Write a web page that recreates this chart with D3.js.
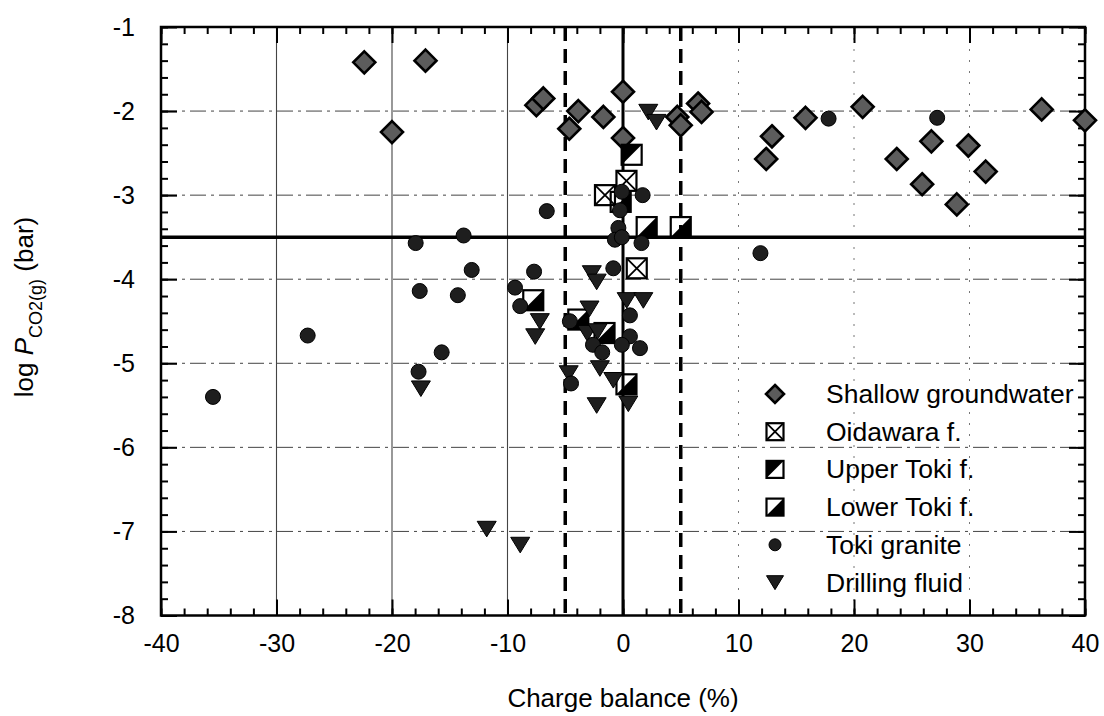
<!DOCTYPE html>
<html>
<head>
<meta charset="utf-8">
<script src="https://cdn.jsdelivr.net/npm/d3@7"></script>
<style>
  html, body { margin: 0; padding: 0; background: #fff; }
  svg { display: block; font-family: "Liberation Sans", Arial, Helvetica, sans-serif; }
</style>
</head>
<body>
<svg id="chart" width="1104" height="716"></svg>
<script>
// ---- data ----
const xTicks = [-40, -30, -20, -10, 0, 10, 20, 30, 40];
const yTicks = [-1, -2, -3, -4, -5, -6, -7, -8];
const xTitle = "Charge balance (%)";
const seriesNames = ["Shallow groundwater", "Oidawara f.", "Upper Toki f.", "Lower Toki f.", "Toki granite", "Drilling fluid"];
const refX = [0];          // solid vertical line
const refXDashed = [-5, 5]; // dashed vertical lines
const refY = [-3.5];       // solid horizontal line

const shallow = [
  [-22.4, -1.42], [-17.1, -1.40], [-20.0, -2.25], [-7.5, -1.93], [-6.9, -1.85],
  [-4.65, -2.21], [-3.87, -2.00], [-1.7, -2.07], [0.0, -1.77], [0.0, -2.32],
  [4.7, -2.07], [5.0, -2.17], [6.5, -1.91], [6.8, -2.01], [12.9, -2.30],
  [12.4, -2.57], [15.8, -2.08], [20.75, -1.95], [23.7, -2.57], [26.7, -2.36],
  [25.9, -2.87], [29.9, -2.41], [31.4, -2.72], [28.9, -3.11], [36.25, -1.98],
  [40.0, -2.11]
];
const oidawara = [[0.3, -2.83], [-1.56, -3.0], [1.19, -3.87]];
const upperToki = [[0.75, -2.52]];
const lowerToki = [
  [-0.2, -3.08], [2.05, -3.38], [5.0, -3.38], [-7.77, -4.25], [-3.87, -4.48],
  [-1.6, -4.64], [0.3, -5.25]
];
const tokiGranite = [
  [-6.6, -3.19], [-13.8, -3.48], [-17.95, -3.57], [-13.1, -3.89], [-7.7, -3.91],
  [-17.6, -4.14], [-14.3, -4.19], [-9.35, -4.10], [-8.9, -4.32], [-27.3, -4.67],
  [-15.7, -4.87], [-17.7, -5.10], [-35.5, -5.40], [-4.6, -4.50], [-4.5, -5.24],
  [17.8, -2.09], [27.2, -2.08], [11.9, -3.69],
  [-0.1, -2.96], [-0.26, -3.18], [1.7, -3.00], [-0.4, -3.39], [-0.7, -3.53],
  [-0.1, -3.50], [1.6, -3.57], [-0.84, -3.87], [0.6, -4.43], [0.6, -4.68],
  [-0.1, -4.78], [1.47, -4.82], [-2.6, -4.78], [-1.8, -4.87]
];
const drilling = [
  [2.19, -2.01], [2.9, -2.13], [-2.7, -3.93], [-2.28, -4.03], [-7.2, -4.50],
  [-7.6, -4.68], [-2.9, -4.35], [0.32, -4.25], [1.76, -4.25], [-3.1, -4.64],
  [-2.2, -4.62], [-2.0, -5.06], [-0.84, -5.20], [-4.7, -5.12], [0.46, -5.48],
  [-2.28, -5.50], [-17.5, -5.30], [-11.8, -6.97], [-8.9, -7.16]
];

// ---- layout ----
const svg = d3.select("#chart");
const x = d3.scaleLinear().domain([-40, 40]).range([161, 1085]);
const y = d3.scaleLinear().domain([-8, -1]).range([615.5, 27]);
const X0 = x.range()[0], X1 = x.range()[1], Y0 = y.range()[0], Y1 = y.range()[1];
const fontSize = 25;

// grid
const grid = svg.append("g");
grid.selectAll("line.vg").data(xTicks.filter(d => d > -40 && d < 40 && d !== 0)).join("line")
  .attr("x1", d => x(d)).attr("x2", d => x(d)).attr("y1", Y1).attr("y2", Y0)
  .attr("stroke", d => d < 0 ? "#444" : "#777")
  .attr("stroke-width", d => d < 0 ? 1.1 : 1)
  .attr("stroke-dasharray", d => d < 0 ? null : "2,9");
grid.selectAll("line.hg").data(yTicks.filter(d => d < -1 && d > -8)).join("line")
  .attr("x1", X0).attr("x2", X1).attr("y1", d => y(d)).attr("y2", d => y(d))
  .attr("stroke", "#444").attr("stroke-width", 1)
  .attr("stroke-dasharray", "16,5,3,5");

// reference lines
svg.append("g").selectAll("line").data(refXDashed).join("line")
  .attr("x1", d => x(d)).attr("x2", d => x(d)).attr("y1", Y1).attr("y2", Y0)
  .attr("stroke", "#000").attr("stroke-width", 3.5).attr("stroke-dasharray", "14,8");
svg.append("g").selectAll("line").data(refX).join("line")
  .attr("x1", d => x(d)).attr("x2", d => x(d)).attr("y1", Y1).attr("y2", Y0)
  .attr("stroke", "#000").attr("stroke-width", 3);
svg.append("g").selectAll("line").data(refY).join("line")
  .attr("x1", X0).attr("x2", X1).attr("y1", d => y(d)).attr("y2", d => y(d))
  .attr("stroke", "#000").attr("stroke-width", 3.5);

// axes with inward ticks
const xMinor = d3.range(-40, 41, 2);
const yMinor = d3.range(-8, -0.99, 0.2).map(v => Math.round(v * 10) / 10);
function styleAxis(g) {
  g.select(".domain").remove();
  g.selectAll(".tick line").attr("stroke", "#000").attr("stroke-width", 2);
  g.selectAll("text").attr("font-size", fontSize).attr("fill", "#000")
    .attr("font-family", "'Liberation Sans', Arial, Helvetica, sans-serif");
}
svg.append("g").attr("transform", `translate(0,${Y0})`)
  .call(d3.axisBottom(x).tickValues(xMinor).tickSize(-7).tickFormat("")).call(styleAxis);
svg.append("g").attr("transform", `translate(0,${Y0})`)
  .call(d3.axisBottom(x).tickValues(xTicks).tickSize(-16).tickPadding(19).tickFormat(d => String(d))).call(styleAxis);
svg.append("g").attr("transform", `translate(0,${Y1})`)
  .call(d3.axisTop(x).tickValues(xMinor).tickSize(-7).tickFormat("")).call(styleAxis);
svg.append("g").attr("transform", `translate(0,${Y1})`)
  .call(d3.axisTop(x).tickValues(xTicks).tickSize(-16).tickFormat("")).call(styleAxis);
svg.append("g").attr("transform", `translate(${X0},0)`)
  .call(d3.axisLeft(y).tickValues(yMinor).tickSize(-7).tickFormat("")).call(styleAxis);
svg.append("g").attr("transform", `translate(${X0},0)`)
  .call(d3.axisLeft(y).tickValues(yTicks).tickSize(-16).tickPadding(26).tickFormat(d => String(d))).call(styleAxis);
svg.append("g").attr("transform", `translate(${X1},0)`)
  .call(d3.axisRight(y).tickValues(yMinor).tickSize(-7).tickFormat("")).call(styleAxis);
svg.append("g").attr("transform", `translate(${X1},0)`)
  .call(d3.axisRight(y).tickValues(yTicks).tickSize(-16).tickFormat("")).call(styleAxis);

// frame
svg.append("rect").attr("x", X0).attr("y", Y1).attr("width", X1 - X0).attr("height", Y0 - Y1)
  .attr("fill", "none").attr("stroke", "#000").attr("stroke-width", 2.5);

// ---- marker drawing ----
function drawDiamond(g, cx, cy, h) {
  g.append("path").attr("d", `M${cx},${cy - h}L${cx + h},${cy}L${cx},${cy + h}L${cx - h},${cy}Z`)
    .attr("fill", "#5c5c5c").attr("stroke", "#000").attr("stroke-width", 2.6);
}
function drawSquare(g, cx, cy, s, kind) {
  const h = s / 2;
  if (kind === "upper") {
    g.append("path").attr("d", `M${cx - h},${cy - h}L${cx + h},${cy - h}L${cx - h},${cy + h}Z`).attr("fill", "#000");
  } else if (kind === "lower") {
    g.append("path").attr("d", `M${cx + h},${cy - h}L${cx + h},${cy + h}L${cx - h},${cy + h}Z`).attr("fill", "#000");
  }
  g.append("rect").attr("x", cx - h).attr("y", cy - h).attr("width", s).attr("height", s)
    .attr("fill", kind === "ox" ? "#fff" : "none").attr("stroke", "#000").attr("stroke-width", 2.2);
  if (kind === "ox") {
    g.append("path").attr("d", `M${cx - h},${cy - h}L${cx + h},${cy + h}M${cx + h},${cy - h}L${cx - h},${cy + h}`)
      .attr("stroke", "#000").attr("stroke-width", 1.8);
  }
}
function drawCircle(g, cx, cy, r) {
  g.append("circle").attr("cx", cx).attr("cy", cy).attr("r", r)
    .attr("fill", "#1e1e1e").attr("stroke", "#000").attr("stroke-width", 1);
}
function drawTriangle(g, cx, cy, w) {
  const hw = w / 2, ht = w * 0.4, hb = w * 0.42;
  g.append("path").attr("d", `M${cx - hw},${cy - ht}L${cx + hw},${cy - ht}L${cx},${cy + hb}Z`)
    .attr("fill", "#1e1e1e").attr("stroke", "#000").attr("stroke-width", 1);
}

const marks = svg.append("g");
shallow.forEach(d => drawDiamond(marks, x(d[0]), y(d[1]), 11));
oidawara.forEach(d => drawSquare(marks, x(d[0]), y(d[1]), 20, "ox"));
upperToki.forEach(d => drawSquare(marks, x(d[0]), y(d[1]), 20, "upper"));
lowerToki.forEach(d => drawSquare(marks, x(d[0]), y(d[1]), 20, "lower"));
drilling.forEach(d => drawTriangle(marks, x(d[0]), y(d[1]), 19));
tokiGranite.forEach(d => drawCircle(marks, x(d[0]), y(d[1]), 7.5));

// ---- legend ----
const leg = svg.append("g");
const legX = 775, legTextX = 826, legY0 = 394, legStep = 37.7;
seriesNames.forEach((name, i) => {
  const cy = legY0 + i * legStep;
  if (i === 0) drawDiamond(leg, legX, cy, 9);
  if (i === 1) drawSquare(leg, legX, cy, 17, "ox");
  if (i === 2) drawSquare(leg, legX, cy, 17, "upper");
  if (i === 3) drawSquare(leg, legX, cy, 17, "lower");
  if (i === 4) drawCircle(leg, legX, cy, 6);
  if (i === 5) drawTriangle(leg, legX, cy, 17);
  leg.append("text").attr("x", legTextX).attr("y", cy + 9).attr("font-size", 26.5).attr("fill", "#000").text(name);
});

// ---- titles ----
svg.append("text").attr("x", (X0 + X1) / 2).attr("y", 707).attr("text-anchor", "middle")
  .attr("font-size", 26).attr("fill", "#000").text(xTitle);

const yt = svg.append("text").attr("transform", "translate(33,307) rotate(-90)")
  .attr("text-anchor", "middle").attr("font-size", 26).attr("fill", "#000");
yt.append("tspan").text("log ");
yt.append("tspan").attr("font-style", "italic").text("P");
yt.append("tspan").attr("font-size", 18).attr("dy", 9).text("CO2(g)");
yt.append("tspan").attr("dy", -9).text(" (bar)");
</script>
</body>
</html>
